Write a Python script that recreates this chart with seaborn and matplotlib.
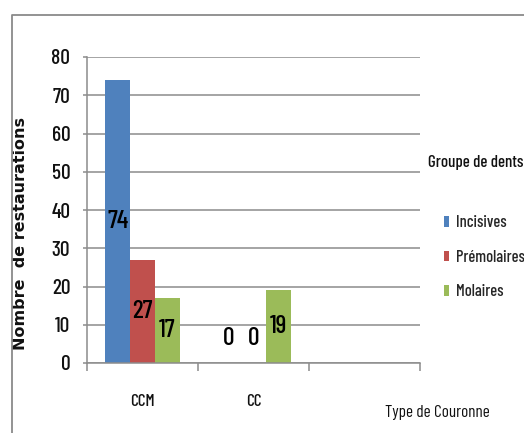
import matplotlib
matplotlib.use("Agg")
import matplotlib.pyplot as plt
from matplotlib.lines import Line2D
from matplotlib.patches import Patch
import pandas as pd
import seaborn as sns

# Data: number of restorations per crown type and tooth group
types_couronne = ["CCM", "CC"]
groupes = ["Incisives", "Prémolaires", "Molaires"]
incisives = [74, 0]
premolaires = [27, 0]
molaires = [17, 19]
couleurs = ["#4F81BD", "#C0504D", "#9BBB59"]
yticks = [0, 10, 20, 30, 40, 50, 60, 70, 80]

rows = []
for g, vals in zip(groupes, [incisives, premolaires, molaires]):
    for t, v in zip(types_couronne, vals):
        rows.append({"Type": t, "Groupe": g, "n": v})
df = pd.DataFrame(rows)

sns.set_style("white")
narrow = ["Barlow Condensed", "DejaVu Sans"]
plt.rcParams["font.family"] = narrow
plt.rcParams["font.weight"] = 500

W, H = 524, 433
fig = plt.figure(figsize=(W / 100, H / 100), dpi=100)
ax = fig.add_axes([87 / W, (H - 363) / H, (420 - 87) / W, (363 - 57) / H])

order = ["CCM", "CC", " "]
sns.barplot(data=df, x="Type", y="n", hue="Groupe", order=order,
            hue_order=groupes, palette=couleurs, saturation=1, width=0.667,
            linewidth=0, errorbar=None, legend=False, ax=ax)

ax.set_xlim(-0.5, 2.5)
ax.set_ylim(0, 80)
ax.set_yticks(yticks)
grid_c = "#8C8C8C"
ax.yaxis.grid(True, color=grid_c, linewidth=1.1)
ax.set_axisbelow(True)
for s in ["top", "right"]:
    ax.spines[s].set_visible(False)
for s in ["left", "bottom"]:
    ax.spines[s].set_color(grid_c)
    ax.spines[s].set_linewidth(1.1)

ax.tick_params(axis="y", which="major", length=3, width=1.1, color=grid_c,
               pad=9, labelsize=15.4, labelcolor="#111111", left=True)
ax.set_xticks([0, 1, 2])
ax.set_xticklabels(["CCM", "CC", ""])
ax.set_xticks([-0.5, 0.5, 1.5, 2.5], minor=True)
ax.tick_params(axis="x", which="major", length=0, pad=22, labelsize=12.3,
               labelcolor="#111111")
ax.tick_params(axis="x", which="minor", length=6, width=1.1, color=grid_c,
               bottom=True)

# value labels centred in each bar
for cont, vals in zip(ax.containers, [incisives, premolaires, molaires]):
    for patch, v in zip(cont.patches, vals):
        cx = patch.get_x() + patch.get_width() / 2
        cy = v / 2 if v > 0 else 6.5
        ax.text(cx, cy, str(v), ha="center", va="center", fontsize=18.5,
                color="#000000")

ax.set_xlabel("Type de Couronne", fontsize=12.3, color="#111111", va="center")
ax.xaxis.set_label_coords((437 - 87) / 333, -(412 - 363) / 306)
ax.set_ylabel("Nombre  de restaurations", fontsize=11.5, fontweight="bold",
              family="DejaVu Sans", color="#111111")
ax.yaxis.set_label_coords((28 - 87) / 333, (363 - 234) / 306)

handles = [Patch(facecolor=c, edgecolor="none") for c in couleurs]
leg = fig.legend(handles, groupes, loc="upper left",
                 bbox_to_anchor=(444 / W, 1 - 215 / H),
                 bbox_transform=fig.transFigure, frameon=False,
                 fontsize=11.8, handlelength=0.33, handleheight=0.62,
                 handletextpad=0.4, labelspacing=1.2, borderpad=0,
                 borderaxespad=0)
fig.text(428 / W, 1 - 163 / H, "Groupe de dents", fontsize=12.2,
         ha="left", va="center", color="#111111")

# outer chart frame
fig.add_artist(Line2D([12 / W, 12 / W, 1.0], [0.0, 1 - 15 / H, 1 - 15 / H],
                      transform=fig.transFigure, color="#8A8A8A",
                      linewidth=1.3))

fig.savefig("out.png", dpi=100, facecolor="white")
